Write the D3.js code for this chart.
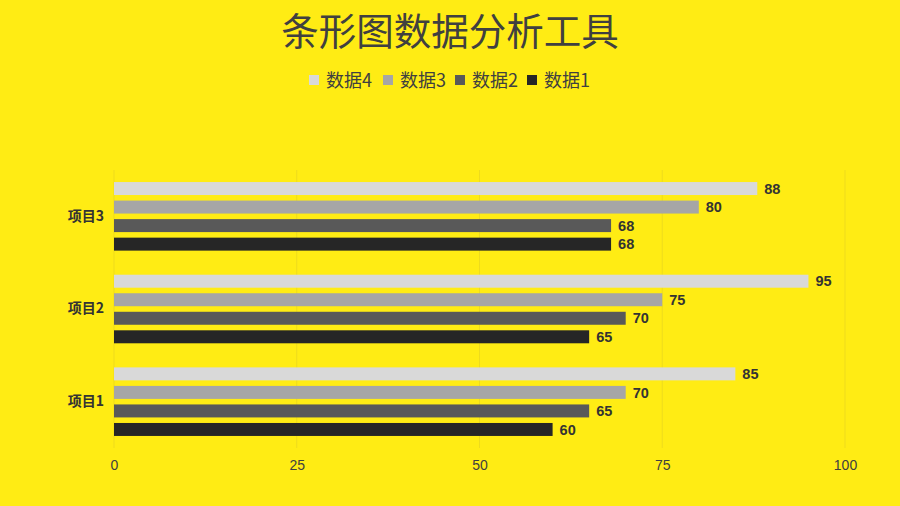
<!DOCTYPE html>
<html>
<head>
<meta charset="utf-8">
<script src="https://cdn.jsdelivr.net/npm/d3@7"></script>
<style>
  body { margin: 0; background: #FFEC14; }
  svg { display: block; }
  text { font-family: "Liberation Sans", "Noto Sans CJK SC", sans-serif; }
</style>
</head>
<body>
<div id="chart"></div>
<script>
// data
var categories = ['项目1', '项目2', '项目3'];
var seriesNames = ['数据1', '数据2', '数据3', '数据4'];
var values1 = [60, 65, 68];
var values2 = [65, 70, 68];
var values3 = [70, 75, 80];
var values4 = [85, 95, 88];
var ticks = [0, 25, 50, 75, 100];
var colors = ['#262626', '#595959', '#A6A6A6', '#D9D9D9'];

var allValues = [values1, values2, values3, values4];

var width = 900, height = 506
  , margin = {top: 170, right: 55, bottom: 58, left: 114};

var svg = d3.select('#chart').append('svg')
  .attr('width', width)
  .attr('height', height);

// title
svg.append('text')
  .attr('x', width / 2)
  .attr('y', 45)
  .attr('text-anchor', 'middle')
  .style('font-family', '"Noto Sans CJK SC", sans-serif')
  .style('font-size', '37.5px')
  .style('fill', '#404040')
  .text('条形图数据分析工具');

// legend, reversed like the reference
var legendItems = [3, 2, 1, 0];
var legendX = [309, 383, 455, 527];
var legend = svg.selectAll('.legendEntry')
  .data(legendItems)
  .enter().append('g')
  .classed('legendEntry', true)
  .attr('transform', function(d, i) { return 'translate(' + legendX[i] + ',80)'; });

legend.append('rect')
  .attr('x', 0)
  .attr('y', -5)
  .attr('width', 10)
  .attr('height', 10)
  .style('fill', function(d) { return colors[d]; });

legend.append('text')
  .attr('x', 17)
  .attr('y', 6.5)
  .style('font-family', '"Noto Sans CJK SC", sans-serif')
  .style('font-size', '18px')
  .style('fill', '#404040')
  .text(function(d) { return seriesNames[d]; });

var plotW = width - margin.left - margin.right
  , plotH = height - margin.top - margin.bottom;

var g = svg.append('g')
  .attr('transform', 'translate(' + margin.left + ',' + margin.top + ')');

var x = d3.scaleLinear().domain([0, 100]).range([0, plotW]);

// top to bottom: 项目3, 项目2, 项目1
var y0 = d3.scaleBand()
  .domain(categories.slice().reverse())
  .range([0, plotH])
  .paddingInner(0.2)
  .paddingOuter(0.1);

// within a group: 数据4 on top, 数据1 at bottom
var y1 = d3.scaleBand()
  .domain([3, 2, 1, 0])
  .range([0, y0.bandwidth()])
  .paddingInner(0.3)
  .paddingOuter(0.15);

// grid lines
g.selectAll('.grid')
  .data(ticks)
  .enter().append('line')
  .attr('x1', function(d) { return x(d); })
  .attr('x2', function(d) { return x(d); })
  .attr('y1', 0)
  .attr('y2', plotH)
  .style('stroke', '#EEDB1C')
  .style('stroke-width', 1);

// x axis labels
var xAxis = d3.axisBottom(x).tickValues(ticks).tickSize(0).tickPadding(12);
var xg = g.append('g')
  .attr('transform', 'translate(0,' + plotH + ')')
  .call(xAxis);
xg.select('.domain').remove();
xg.selectAll('text')
  .style('font-family', '"Liberation Sans Narrow", "Liberation Sans", sans-serif')
  .style('font-size', '14px')
  .style('fill', '#404040');

// y axis labels
var yAxis = d3.axisLeft(y0).tickSize(0).tickPadding(10);
var yg = g.append('g').call(yAxis);
yg.select('.domain').remove();
yg.selectAll('text')
  .style('font-family', '"Noto Sans CJK SC", sans-serif')
  .style('font-size', '14px')
  .style('font-weight', 'bold')
  .style('fill', '#333');

// bars
var rows = categories.map(function(c, ci) {
  return {cat: c, vals: allValues.map(function(v, si) { return {s: si, v: v[ci]}; })};
});

var groups = g.selectAll('.group')
  .data(rows)
  .enter().append('g')
  .classed('group', true)
  .attr('transform', function(d) { return 'translate(0,' + y0(d.cat) + ')'; });

groups.selectAll('rect')
  .data(function(d) { return d.vals; })
  .enter().append('rect')
  .attr('x', 0)
  .attr('y', function(d) { return y1(d.s); })
  .attr('width', function(d) { return x(d.v); })
  .attr('height', y1.bandwidth())
  .style('fill', function(d) { return colors[d.s]; });

groups.selectAll('.label')
  .data(function(d) { return d.vals; })
  .enter().append('text')
  .classed('label', true)
  .attr('x', function(d) { return x(d.v) + 7; })
  .attr('y', function(d) { return y1(d.s) + y1.bandwidth() / 2; })
  .attr('dy', '0.36em')
  .style('font-size', '14.5px')
  .style('font-weight', 'bold')
  .style('fill', '#333')
  .text(function(d) { return d.v; });
</script>
</body>
</html>
